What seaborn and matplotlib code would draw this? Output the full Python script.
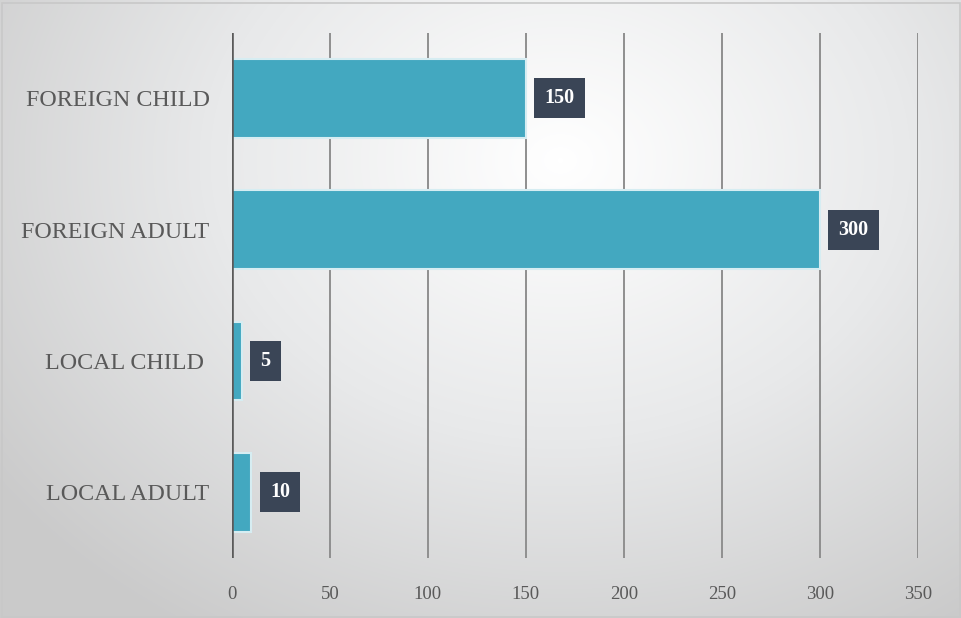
import numpy as np
import pandas as pd
import matplotlib
matplotlib.use("Agg")
import matplotlib.pyplot as plt
from matplotlib.colors import LinearSegmentedColormap
import seaborn as sns

categories = ["FOREIGN CHILD", "FOREIGN ADULT", "LOCAL CHILD ", "LOCAL ADULT"]
visitors = [150, 300, 5, 10]
x_ticks = [0, 50, 100, 150, 200, 250, 300, 350]

df = pd.DataFrame({"category": categories, "visitors": visitors})

sns.set_theme(style="white")
plt.rcParams["font.family"] = ["Liberation Serif", "DejaVu Serif"]

fig = plt.figure(figsize=(9.62, 6.18), dpi=100)

# soft radial backdrop
bg = fig.add_axes([0, 0, 1, 1], zorder=-10)
yy, xx = np.mgrid[0:618, 0:962]
r = np.sqrt(((xx - 560) / 700.0) ** 2 + ((yy - 160) / 560.0) ** 2)
r = np.clip(r, 0, 1)
cmap = LinearSegmentedColormap.from_list("bg", ["#ffffff", "#e8e9ea", "#cacaca"])
bg.imshow(r, cmap=cmap, aspect="auto", extent=[0, 1, 0, 1], origin="upper")
bg.set_axis_off()
bg.add_patch(plt.Rectangle((0.002, 0.002), 0.996, 0.993, transform=bg.transAxes,
                           fill=False, edgecolor="#c8c8c8", linewidth=1.2))

ax = fig.add_axes([0.241, 0.097, 0.713, 0.85])
ax.patch.set_alpha(0)

sns.barplot(data=df, x="visitors", y="category", orient="h", order=categories,
            color="#43a8c0", saturation=1, width=0.6, ax=ax,
            edgecolor="#d6edf2", linewidth=1.5, zorder=3)

ax.set_xlim(0, 350)
ax.set_ylim(3.5, -0.5)
ax.set_xticks(x_ticks)
ax.set_xticklabels([str(t) for t in x_ticks])
ax.set_xlabel("")
ax.set_ylabel("")

for t in x_ticks[1:]:
    ax.axvline(t, color="#8f8f8f", linewidth=1.4, zorder=1)
ax.axvline(0, color="#5a5a5a", linewidth=2.6, zorder=4)

for s in ax.spines.values():
    s.set_visible(False)

ax.tick_params(axis="y", length=0, pad=16, labelsize=17.3, labelcolor="#595959")
ax.tick_params(axis="x", length=0, pad=20, labelsize=13.5, labelcolor="#595959")

for i, v in enumerate(visitors):
    ax.annotate(str(v), xy=(v, i), xytext=(13.5, 0), textcoords="offset points",
                ha="left", va="center", fontsize=14.5, fontweight="bold", color="white",
                bbox=dict(boxstyle="square,pad=0.5", facecolor="#3a4556", edgecolor="none"),
                zorder=6)

fig.savefig("out.png", dpi=100)
